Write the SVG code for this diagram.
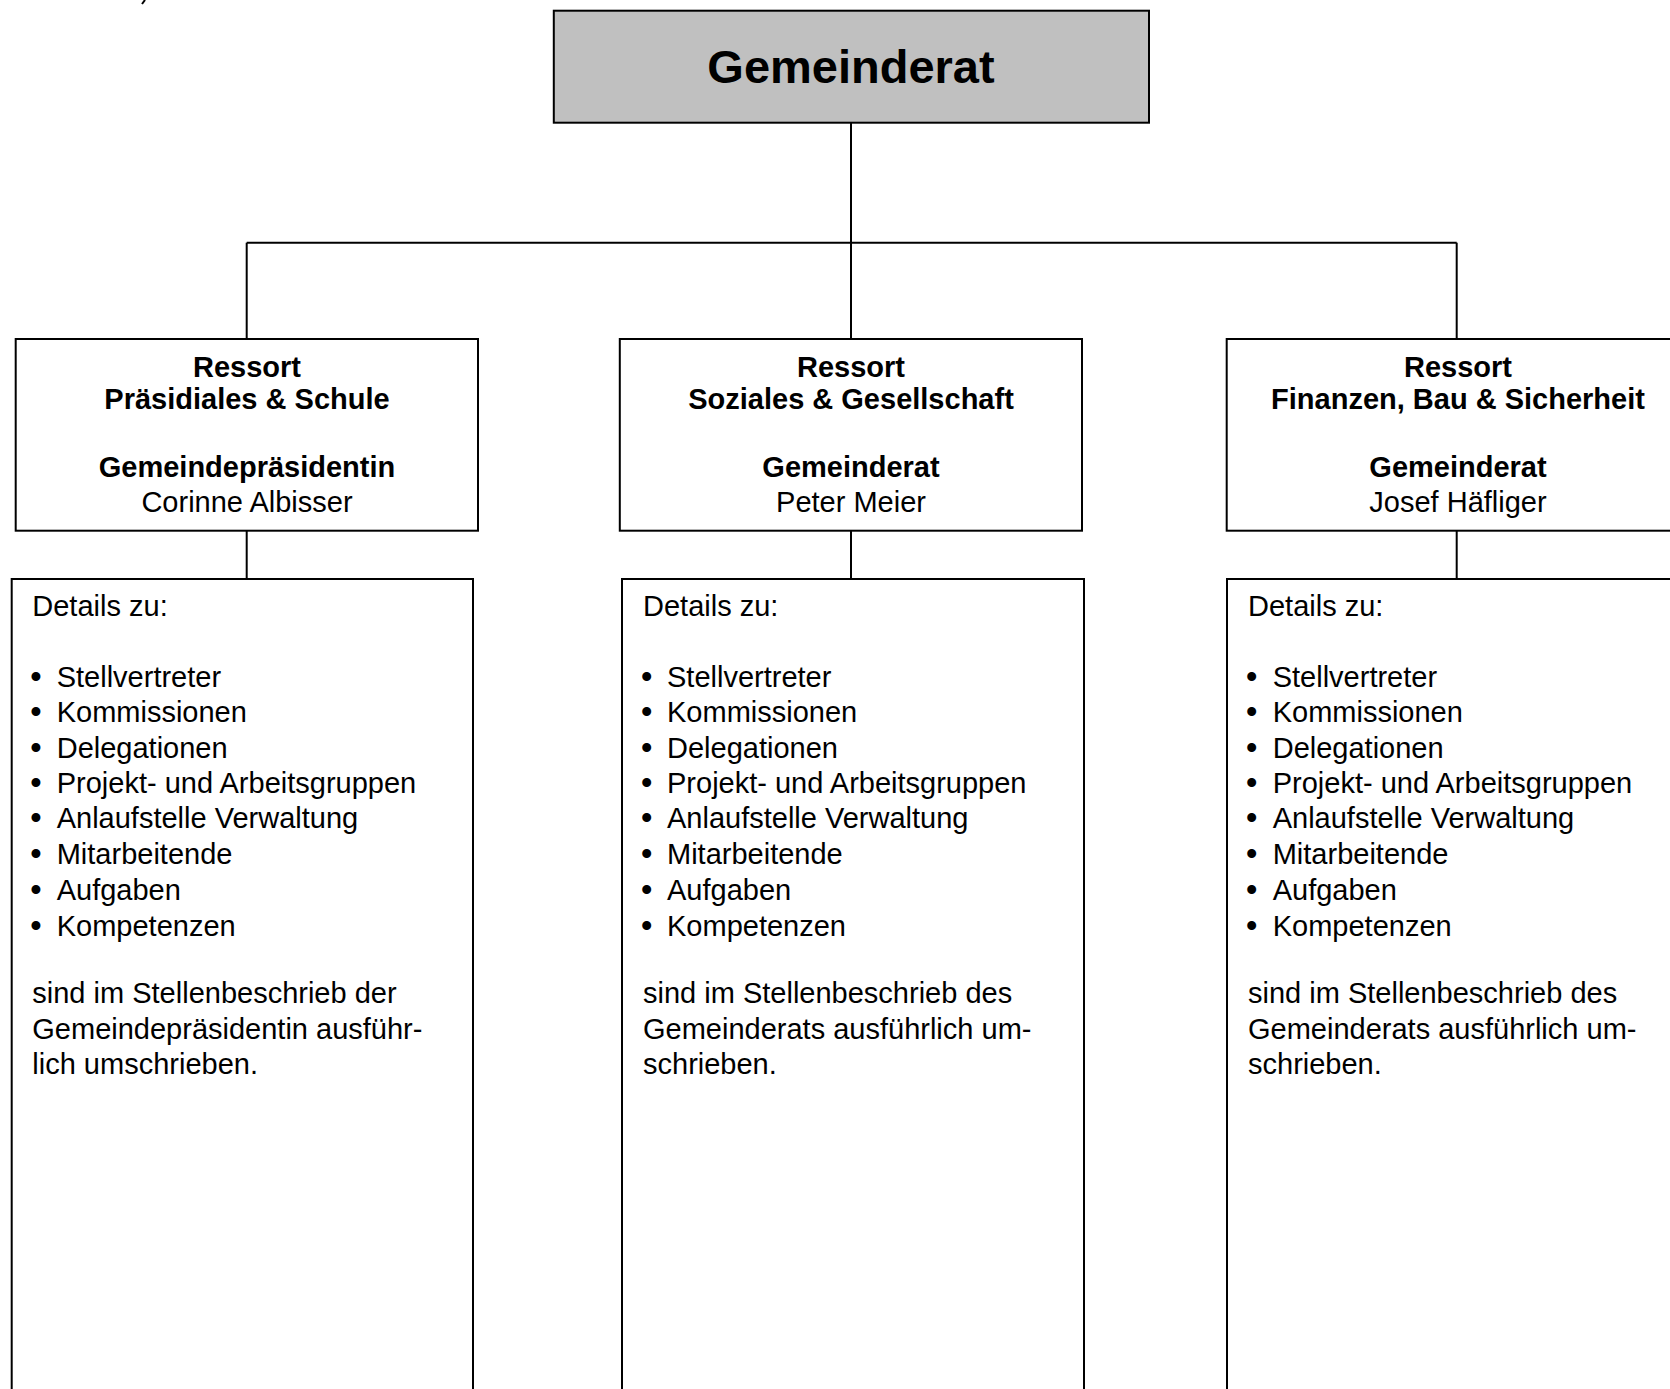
<svg xmlns="http://www.w3.org/2000/svg" width="1670" height="1389" viewBox="0 0 1670 1389">
<style>
.box{fill:#ffffff;stroke:#000000;stroke-width:2}
.top{fill:#c0c0c0;stroke:#000000;stroke-width:2}
.ln{stroke:#000000;stroke-width:2;fill:none}
text{font-family:"Liberation Sans",Arial,sans-serif;fill:#000000}
.t{font-size:29px;text-anchor:middle}
.b{font-weight:bold}
.d{font-size:29px}
.bu{font-size:31px;font-weight:bold}
</style>
<rect x="0" y="0" width="1670" height="1389" fill="#ffffff"/>
<path class="ln" d="M145,0 L142,4"/>
<g id="connectors">
<line class="ln" x1="851" y1="122.5" x2="851" y2="339"/>
<line class="ln" x1="246.7" y1="242.7" x2="1456.7" y2="242.7"/>
<line class="ln" x1="246.7" y1="242.7" x2="246.7" y2="339"/>
<line class="ln" x1="1456.7" y1="242.7" x2="1456.7" y2="339"/>
<line class="ln" x1="246.7" y1="530.7" x2="246.7" y2="579"/>
<line class="ln" x1="851" y1="530.7" x2="851" y2="579"/>
<line class="ln" x1="1456.7" y1="530.7" x2="1456.7" y2="579"/>
</g>
<g id="gemeinderat">
<rect class="top" x="553.8" y="10.7" width="595.2" height="112"/>
<text x="851" y="83.3" font-size="47" font-weight="bold" text-anchor="middle">Gemeinderat</text>
</g>
<g id="ressort-praesidiales">
<rect class="box" x="15.7" y="339" width="462.3" height="191.7"/>
<text class="t b" x="247" y="376.7">Ressort</text>
<text class="t b" x="247" y="409.3">Präsidiales &amp; Schule</text>
<text class="t b" x="247" y="477.3">Gemeindepräsidentin</text>
<text class="t" x="247" y="512">Corinne Albisser</text>
</g>
<g id="ressort-soziales">
<rect class="box" x="619.8" y="339" width="462.2" height="191.7"/>
<text class="t b" x="851" y="376.7">Ressort</text>
<text class="t b" x="851" y="409.3">Soziales &amp; Gesellschaft</text>
<text class="t b" x="851" y="477.3">Gemeinderat</text>
<text class="t" x="851" y="512">Peter Meier</text>
</g>
<g id="ressort-finanzen">
<rect class="box" x="1226.7" y="339" width="462.3" height="191.7"/>
<text class="t b" x="1458" y="376.7">Ressort</text>
<text class="t b" x="1458" y="409.3">Finanzen, Bau &amp; Sicherheit</text>
<text class="t b" x="1458" y="477.3">Gemeinderat</text>
<text class="t" x="1458" y="512">Josef Häfliger</text>
</g>
<g id="details-praesidiales">
<rect class="box" x="11.7" y="579" width="461.3" height="830"/>
<text class="d" x="32.3" y="616">Details zu:</text>
<text class="d" x="30.5" y="686.7"><tspan class="bu">•</tspan><tspan x="56.7">Stellvertreter</tspan></text>
<text class="d" x="30.5" y="722.3"><tspan class="bu">•</tspan><tspan x="56.7">Kommissionen</tspan></text>
<text class="d" x="30.5" y="758.3"><tspan class="bu">•</tspan><tspan x="56.7">Delegationen</tspan></text>
<text class="d" x="30.5" y="792.7"><tspan class="bu">•</tspan><tspan x="56.7">Projekt- und Arbeitsgruppen</tspan></text>
<text class="d" x="30.5" y="828.3"><tspan class="bu">•</tspan><tspan x="56.7">Anlaufstelle Verwaltung</tspan></text>
<text class="d" x="30.5" y="864.3"><tspan class="bu">•</tspan><tspan x="56.7">Mitarbeitende</tspan></text>
<text class="d" x="30.5" y="900"><tspan class="bu">•</tspan><tspan x="56.7">Aufgaben</tspan></text>
<text class="d" x="30.5" y="936"><tspan class="bu">•</tspan><tspan x="56.7">Kompetenzen</tspan></text>
<text class="d" x="32.3" y="1003.3">sind im Stellenbeschrieb der</text>
<text class="d" x="32.3" y="1039">Gemeindepräsidentin ausführ-</text>
<text class="d" x="32.3" y="1074">lich umschrieben.</text>
</g>
<g id="details-soziales">
<rect class="box" x="622" y="579" width="462" height="830"/>
<text class="d" x="643" y="616">Details zu:</text>
<text class="d" x="641.2" y="686.7"><tspan class="bu">•</tspan><tspan x="667">Stellvertreter</tspan></text>
<text class="d" x="641.2" y="722.3"><tspan class="bu">•</tspan><tspan x="667">Kommissionen</tspan></text>
<text class="d" x="641.2" y="758.3"><tspan class="bu">•</tspan><tspan x="667">Delegationen</tspan></text>
<text class="d" x="641.2" y="792.7"><tspan class="bu">•</tspan><tspan x="667">Projekt- und Arbeitsgruppen</tspan></text>
<text class="d" x="641.2" y="828.3"><tspan class="bu">•</tspan><tspan x="667">Anlaufstelle Verwaltung</tspan></text>
<text class="d" x="641.2" y="864.3"><tspan class="bu">•</tspan><tspan x="667">Mitarbeitende</tspan></text>
<text class="d" x="641.2" y="900"><tspan class="bu">•</tspan><tspan x="667">Aufgaben</tspan></text>
<text class="d" x="641.2" y="936"><tspan class="bu">•</tspan><tspan x="667">Kompetenzen</tspan></text>
<text class="d" x="643" y="1003.3">sind im Stellenbeschrieb des</text>
<text class="d" x="643" y="1039">Gemeinderats ausführlich um-</text>
<text class="d" x="643" y="1074">schrieben.</text>
</g>
<g id="details-finanzen">
<rect class="box" x="1227" y="579" width="462" height="830"/>
<text class="d" x="1248" y="616">Details zu:</text>
<text class="d" x="1246.2" y="686.7"><tspan class="bu">•</tspan><tspan x="1272.7">Stellvertreter</tspan></text>
<text class="d" x="1246.2" y="722.3"><tspan class="bu">•</tspan><tspan x="1272.7">Kommissionen</tspan></text>
<text class="d" x="1246.2" y="758.3"><tspan class="bu">•</tspan><tspan x="1272.7">Delegationen</tspan></text>
<text class="d" x="1246.2" y="792.7"><tspan class="bu">•</tspan><tspan x="1272.7">Projekt- und Arbeitsgruppen</tspan></text>
<text class="d" x="1246.2" y="828.3"><tspan class="bu">•</tspan><tspan x="1272.7">Anlaufstelle Verwaltung</tspan></text>
<text class="d" x="1246.2" y="864.3"><tspan class="bu">•</tspan><tspan x="1272.7">Mitarbeitende</tspan></text>
<text class="d" x="1246.2" y="900"><tspan class="bu">•</tspan><tspan x="1272.7">Aufgaben</tspan></text>
<text class="d" x="1246.2" y="936"><tspan class="bu">•</tspan><tspan x="1272.7">Kompetenzen</tspan></text>
<text class="d" x="1248" y="1003.3">sind im Stellenbeschrieb des</text>
<text class="d" x="1248" y="1039">Gemeinderats ausführlich um-</text>
<text class="d" x="1248" y="1074">schrieben.</text>
</g>
</svg>
